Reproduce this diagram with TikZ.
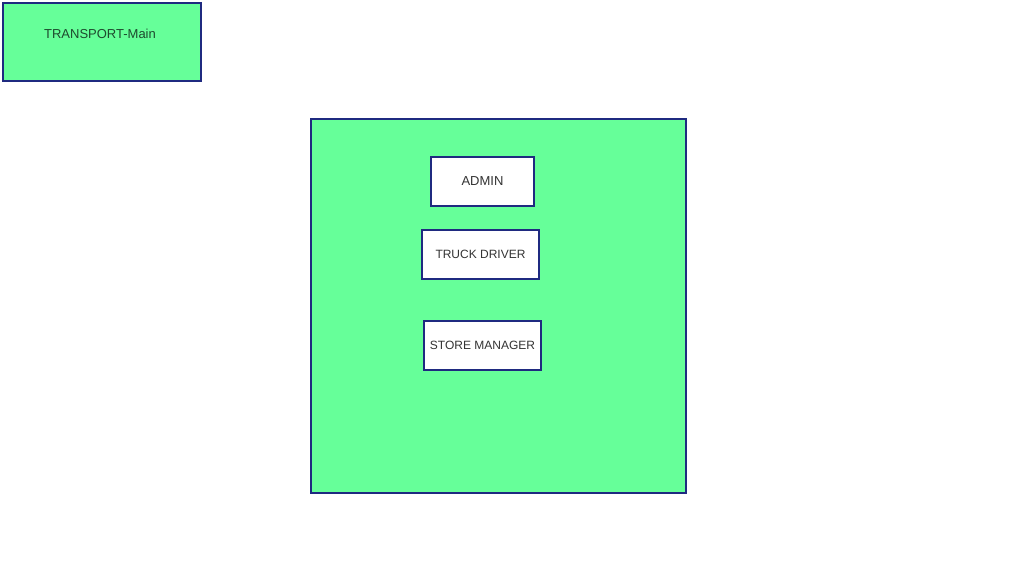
\documentclass[tikz,border=0pt]{standalone}
\usepackage{fontspec}
\setmainfont{Liberation Sans}
\usepackage{tikz}
\usetikzlibrary{positioning}
\definecolor{boxgreen}{HTML}{66FF99}
\definecolor{boxblue}{HTML}{1F2A80}
\definecolor{labelgray}{HTML}{333333}
\definecolor{labelgreen}{HTML}{1E4A2E}

\begin{document}
\begin{tikzpicture}[x=1pt,y=-1pt,
  frame/.style={draw=boxblue,line width=1.6pt,fill=boxgreen,inner sep=0pt},
  actor/.style={draw=boxblue,line width=1.6pt,fill=white,inner sep=0pt,text=labelgray,font=\fontsize{12}{14}\selectfont}]
\useasboundingbox (0,0) rectangle (1036,563);
\node[frame,minimum width=198pt,minimum height=78pt] (main) at (102,42) {};
\node[text=labelgreen,font=\fontsize{13}{15}\selectfont] (mainlabel) at (100,34) {TRANSPORT-Main};
\node[frame,minimum width=375pt,minimum height=374pt] (system) at (498.5,306) {};
\node[actor,minimum width=103pt,minimum height=49pt,font=\fontsize{13}{15}\selectfont] (admin) at (482.5,181.5) {ADMIN};
\node[actor,minimum width=117pt,minimum height=49pt] (driver) at (480.5,254.5) {TRUCK DRIVER};
\node[actor,minimum width=117pt,minimum height=49pt] (manager) at (482.5,345.5) {STORE MANAGER};
\end{tikzpicture}
\end{document}
